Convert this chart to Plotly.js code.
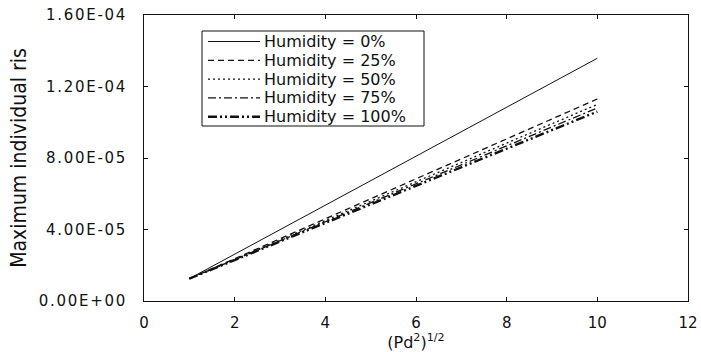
<!DOCTYPE html>
<html><head><meta charset="utf-8">
<script src="https://cdn.plot.ly/plotly-3.0.1.min.js"></script>
<style>html,body{margin:0;padding:0;background:#fff}#c{width:701px;height:352px}
.ytick text{letter-spacing:1.7px}</style>
</head><body><div id="c"></div>
<script>
const xVals = [1,2,3,4,5,6,7,8,9,10];
const h0   = [1.25e-5,2.62e-5,3.99e-5,5.36e-5,6.73e-5,8.10e-5,9.47e-5,1.084e-4,1.221e-4,1.358e-4];
const h25  = [1.25e-5,2.37e-5,3.48e-5,4.60e-5,5.72e-5,6.84e-5,7.95e-5,9.07e-5,1.019e-4,1.130e-4];
const h50  = [1.25e-5,2.33e-5,3.42e-5,4.50e-5,5.58e-5,6.67e-5,7.75e-5,8.83e-5,9.92e-5,1.100e-4];
const h75  = [1.25e-5,2.31e-5,3.37e-5,4.43e-5,5.49e-5,6.56e-5,7.62e-5,8.68e-5,9.74e-5,1.080e-4];
const h100 = [1.25e-5,2.29e-5,3.33e-5,4.37e-5,5.41e-5,6.45e-5,7.49e-5,8.53e-5,9.56e-5,1.060e-4];
const seriesNames = ["Humidity = 0%","Humidity = 25%","Humidity = 50%","Humidity = 75%","Humidity = 100%"];
const yTickVals = [0,4e-5,8e-5,1.2e-4,1.6e-4];
const yTickText = ["0.00E+00","4.00E-05","8.00E-05","1.20E-04","1.60E-04"];
const xTickVals = [0,2,4,6,8,10,12];

const W = 701, H = 352;
const M = {l:144, r:13, t:15, b:51};
const PW = W - M.l - M.r, PH = H - M.t - M.b;
const px = v => (v - M.l) / PW;
const py = v => (H - M.b - v) / PH;

const styles = [
  {dash:"solid", width:1},
  {dash:"6px,4px", width:1.3},
  {dash:"2px,3px", width:1.3},
  {dash:"8px,3px,2px,3px", width:1.3},
  {dash:"9px,3px,2px,3px,2px,3px", width:2.4}
];
const ys = [h0,h25,h50,h75,h100];
const traces = ys.map((y,i)=>({
  x:xVals, y:y, type:"scatter", mode:"lines", name:seriesNames[i], showlegend:false,
  line:{color:"#111", dash:styles[i].dash, width:styles[i].width}
}));

const tickFont = {family:"DejaVu Sans, Verdana, sans-serif", size:15, color:"#111"};
const legFont = {family:"DejaVu Sans, Verdana, sans-serif", size:16, color:"#111"};

// legend box drawn as shapes + annotations
const shapes = [{type:"rect", xref:"paper", yref:"paper", x0:px(202), x1:px(424), y0:py(126), y1:py(31),
  line:{color:"#111", width:1}, fillcolor:"#fff", layer:"above"}];
const annotations = [];
seriesNames.forEach((n,i)=>{
  const yy = 41.5 + i*18.8;
  shapes.push({type:"line", xref:"paper", yref:"paper", x0:px(208), x1:px(260), y0:py(yy), y1:py(yy),
    line:{color:"#111", dash:styles[i].dash, width:styles[i].width}, layer:"above"});
  annotations.push({xref:"paper", yref:"paper", x:px(263), y:py(yy), xanchor:"left", yanchor:"middle",
    text:n, showarrow:false, font:legFont, borderpad:0});
});

const layout = {
  width:W, height:H,
  margin:M,
  paper_bgcolor:"#fff", plot_bgcolor:"#fff",
  font:tickFont,
  showlegend:false,
  shapes:shapes, annotations:annotations,
  xaxis:{range:[0,12], tickvals:xTickVals, ticks:"inside", ticklen:4, tickcolor:"#111",
    showline:true, linecolor:"#111", linewidth:1, mirror:"ticks", showgrid:false, zeroline:false,
    tickfont:tickFont, ticklabelstandoff:8, automargin:false,
    title:{text:"(Pd<sup>2</sup>)<sup>1/2</sup>", font:{family:"DejaVu Sans, Verdana, sans-serif", size:16, color:"#111"}, standoff:0}},
  yaxis:{range:[0,1.6e-4], tickvals:yTickVals, ticktext:yTickText, ticks:"inside", ticklen:4, tickcolor:"#111",
    showline:true, linecolor:"#111", linewidth:1, mirror:"ticks", showgrid:false, zeroline:false,
    tickfont:tickFont, ticklabelstandoff:13, automargin:false,
    title:{text:"Maximum individual ris", font:{family:"Liberation Sans Narrow, DejaVu Sans Condensed, sans-serif", size:21, color:"#111"}, standoff:6}}
};
Plotly.newPlot("c", traces, layout, {staticPlot:true, displayModeBar:false});
</script></body></html>
